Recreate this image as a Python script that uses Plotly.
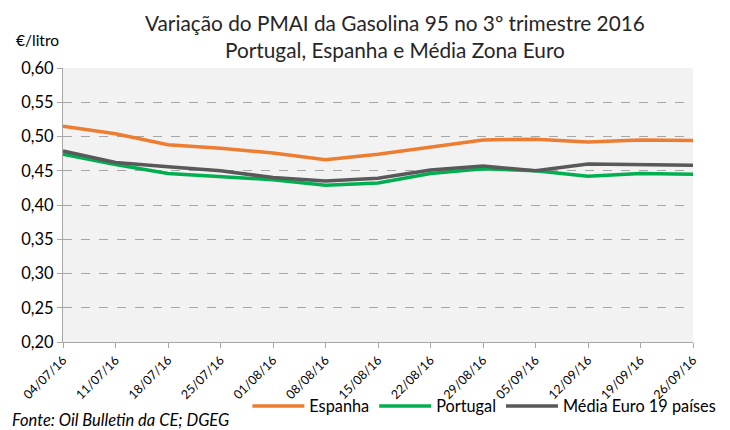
import plotly.graph_objects as go

dates = ["04/07/16", "11/07/16", "18/07/16", "25/07/16", "01/08/16", "08/08/16", "15/08/16",
         "22/08/16", "29/08/16", "05/09/16", "12/09/16", "19/09/16", "26/09/16"]
espanha = [0.515, 0.504, 0.488, 0.483, 0.476, 0.466, 0.474, 0.485, 0.495, 0.496, 0.492, 0.495, 0.494]
portugal = [0.474, 0.459, 0.446, 0.441, 0.437, 0.429, 0.432, 0.446, 0.453, 0.450, 0.442, 0.446, 0.445]
media = [0.479, 0.462, 0.456, 0.450, 0.440, 0.435, 0.439, 0.451, 0.457, 0.450, 0.460, 0.459, 0.458]
y_ticks = [0.20, 0.25, 0.30, 0.35, 0.40, 0.45, 0.50, 0.55, 0.60]
y_labels = [f"{v:.2f}".replace(".", ",") for v in y_ticks]

FONT = "Lato"
x = list(range(len(dates)))

fig = go.Figure()
for name, vals, col in [("Espanha", espanha, "#ED7D31"),
                        ("Portugal", portugal, "#00B050"),
                        ("Média Euro 19 países", media, "#595959")]:
    fig.add_trace(go.Scatter(x=x, y=vals, mode="lines", name=name,
                             line=dict(color=col, width=3.5)))

fig.update_layout(
    width=730, height=430,
    margin=dict(l=63, r=37, t=68, b=88, autoexpand=False),
    paper_bgcolor="white", plot_bgcolor="#F2F2F2",
    font=dict(family=FONT, size=14, color="#000000"),
    title=dict(text="Variação do PMAI da Gasolina 95 no 3º trimestre 2016<br>Portugal, Espanha e Média Zona Euro",
               x=0.541, xanchor="center", y=0.927, yanchor="middle",
               font=dict(family=FONT, size=20.8, color="#262626")),
    showlegend=True,
    legend=dict(orientation="h", x=1.045, xanchor="right", y=-0.235, yanchor="middle",
                font=dict(family=FONT, size=16.3), bgcolor="rgba(0,0,0,0)", itemwidth=52,
                tracegroupgap=0),
    xaxis=dict(range=[0, 12], tickmode="array", tickvals=x, ticktext=dates,
               tickangle=-45, showgrid=False, zeroline=False, automargin=False,
               showline=True, linecolor="#A6A6A6", linewidth=1,
               ticks="outside", ticklen=5, tickcolor="#A6A6A6",
               tickfont=dict(family=FONT, size=12.5)),
    yaxis=dict(range=[0.20, 0.60], tickmode="array", tickvals=y_ticks, ticktext=y_labels,
               showgrid=True, gridcolor="#A6A6A6", griddash="dash", gridwidth=1,
               zeroline=False, showline=True, linecolor="#A6A6A6", linewidth=1,
               automargin=False,
               ticks="outside", ticklen=5, tickcolor="#A6A6A6",
               tickfont=dict(family=FONT, size=16.5)),
)

fig.add_annotation(text="€/litro", xref="paper", yref="paper", x=-0.078, y=1.102,
                   xanchor="left", yanchor="middle", showarrow=False,
                   font=dict(family=FONT, size=15.5))
fig.add_annotation(text="<i>Fonte: Oil Bulletin da CE; DGEG</i>", xref="paper", yref="paper",
                   x=-0.084, y=-0.286, xanchor="left", yanchor="middle", showarrow=False,
                   font=dict(family=FONT, size=16.5))

fig.write_html("out.html", config={"displayModeBar": False},
               post_script="document.body.style.margin='0px';document.body.style.overflow='hidden';")
